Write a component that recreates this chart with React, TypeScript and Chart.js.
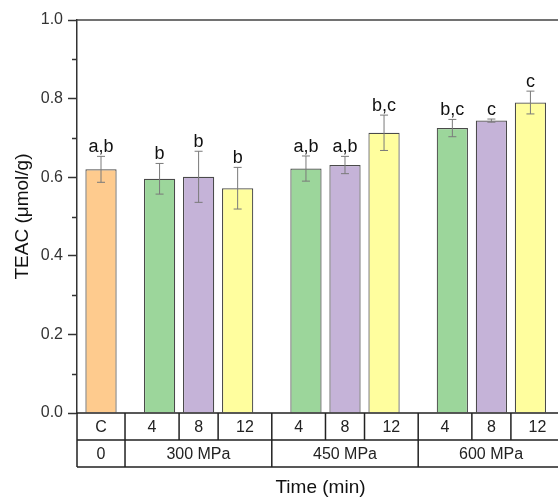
import React, { useEffect, useRef } from 'react';
import { Chart, registerables } from 'chart.js';

Chart.register(...registerables);

// ---- data ----
const pressureGroups = ['0', '300 MPa', '450 MPa', '600 MPa'];
const timeLabels = ['C', '4', '8', '12', '4', '8', '12', '4', '8', '12'];
const groupIndex = [0, 1, 1, 1, 2, 2, 2, 3, 3, 3];
const teacValues = [0.620, 0.596, 0.601, 0.572, 0.622, 0.631, 0.713, 0.725, 0.744, 0.790];
const teacErrors = [0.033, 0.039, 0.065, 0.053, 0.032, 0.022, 0.045, 0.022, 0.004, 0.029];
const significance = ['a,b', 'b', 'b', 'b', 'a,b', 'a,b', 'b,c', 'b,c', 'c', 'c'];
const yMajorTicks = [0, 0.2, 0.4, 0.6, 0.8, 1.0];
const yMinorTicks = [0.1, 0.3, 0.5, 0.7, 0.9];

// ---- styles ----
const FILL: Record<string, string> = {
  C: '#FECB8E',
  '4': '#9CD69B',
  '8': '#C5B3D8',
  '12': '#FFFE9E',
};
const FONT = '"Liberation Sans", Arial, sans-serif';
const CONTROL_GAP = 0.5;
const GROUP_GAP = 0.75;

function barPositions(): number[] {
  const pos: number[] = [];
  let x = 0;
  for (let i = 0; i < timeLabels.length; i++) {
    if (i > 0) {
      x += 1;
      if (groupIndex[i] !== groupIndex[i - 1]) {
        x += groupIndex[i - 1] === 0 ? CONTROL_GAP : GROUP_GAP;
      }
    }
    pos.push(x);
  }
  return pos;
}

const positions = barPositions();
const X_MIN = -0.615;
const X_MAX = positions[positions.length - 1] + 0.86;

const overlayPlugin = {
  id: 'overlay',
  afterDatasetsDraw(chart: any) {
    const { ctx, chartArea, scales } = chart;
    const xs = scales.x;
    const ys = scales.y;
    const L = chartArea.left;
    const R = chartArea.right;
    const T = chartArea.top;
    const B = chartArea.bottom;
    ctx.save();

    // error bars
    ctx.strokeStyle = '#7a7a7a';
    ctx.lineWidth = 1;
    positions.forEach((p, i) => {
      const px = xs.getPixelForValue(p);
      const yHi = ys.getPixelForValue(teacValues[i] + teacErrors[i]);
      const yLo = ys.getPixelForValue(teacValues[i] - teacErrors[i]);
      ctx.beginPath();
      ctx.moveTo(px, yHi);
      ctx.lineTo(px, yLo);
      ctx.moveTo(px - 4, yHi);
      ctx.lineTo(px + 4, yHi);
      ctx.moveTo(px - 4, yLo);
      ctx.lineTo(px + 4, yLo);
      ctx.stroke();
    });

    // significance letters
    ctx.fillStyle = '#111';
    ctx.font = `18px ${FONT}`;
    ctx.textAlign = 'center';
    ctx.textBaseline = 'alphabetic';
    positions.forEach((p, i) => {
      const px = xs.getPixelForValue(p);
      const yHi = ys.getPixelForValue(teacValues[i] + teacErrors[i]);
      ctx.fillText(significance[i], px, yHi - 4);
    });

    // minor ticks
    ctx.strokeStyle = '#333';
    ctx.lineWidth = 1.5;
    yMinorTicks.forEach((v) => {
      const py = Math.round(ys.getPixelForValue(v)) + 0.5;
      ctx.beginPath();
      ctx.moveTo(L - 5, py);
      ctx.lineTo(L, py);
      ctx.stroke();
    });

    // frame top / right
    ctx.strokeStyle = '#444';
    ctx.lineWidth = 1.5;
    ctx.beginPath();
    ctx.moveTo(L, T);
    ctx.lineTo(R, T);
    ctx.lineTo(R, B);
    ctx.stroke();

    // table
    const rowH = 27;
    const r1 = B + rowH;
    const r2 = B + 2 * rowH;
    ctx.strokeStyle = '#222';
    ctx.lineWidth = 1.5;
    ctx.beginPath();
    ctx.moveTo(L, B);
    ctx.lineTo(R, B);
    ctx.moveTo(L, r1);
    ctx.lineTo(R, r1);
    ctx.moveTo(L, r2);
    ctx.lineTo(R, r2);
    ctx.moveTo(L, B);
    ctx.lineTo(L, r2);
    ctx.moveTo(R, B);
    ctx.lineTo(R, r2);
    ctx.stroke();

    // cell boundaries
    const bounds: number[] = [];
    for (let i = 0; i < positions.length - 1; i++) {
      bounds.push(i === 0 ? -X_MIN + positions[0] : (positions[i] + positions[i + 1]) / 2);
    }
    const cellLeft = (i: number) => (i === 0 ? X_MIN : bounds[i - 1]);
    const cellRight = (i: number) => (i === positions.length - 1 ? X_MAX : bounds[i]);

    ctx.beginPath();
    bounds.forEach((b, i) => {
      const bx = xs.getPixelForValue(b);
      const groupBreak = groupIndex[i] !== groupIndex[i + 1];
      ctx.moveTo(bx, B);
      ctx.lineTo(bx, groupBreak ? r2 : r1);
    });
    ctx.stroke();

    ctx.fillStyle = '#222';
    ctx.font = `16px ${FONT}`;
    ctx.textAlign = 'center';
    ctx.textBaseline = 'middle';
    timeLabels.forEach((t, i) => {
      const cx = (xs.getPixelForValue(cellLeft(i)) + xs.getPixelForValue(cellRight(i))) / 2;
      ctx.fillText(t, cx, B + rowH / 2 + 1);
    });
    pressureGroups.forEach((g, gi) => {
      const idx = groupIndex.map((v, i) => (v === gi ? i : -1)).filter((i) => i >= 0);
      const x0 = xs.getPixelForValue(cellLeft(idx[0]));
      const x1 = xs.getPixelForValue(cellRight(idx[idx.length - 1]));
      ctx.fillText(g, (x0 + x1) / 2, r1 + rowH / 2 + 1);
    });

    // axis titles
    ctx.fillStyle = '#111';
    ctx.font = `19px ${FONT}`;
    ctx.textAlign = 'center';
    ctx.textBaseline = 'alphabetic';
    ctx.fillText('Time (min)', (L + R) / 2, 493);

    ctx.save();
    ctx.translate(22.7, (T + B) / 2);
    ctx.rotate(-Math.PI / 2);
    ctx.textBaseline = 'middle';
    ctx.fillText('TEAC (μmol/g)', 0, 0);
    ctx.restore();

    ctx.restore();
  },
};

export default function App() {
  const canvasRef = useRef<HTMLCanvasElement | null>(null);

  useEffect(() => {
    const canvas = canvasRef.current;
    if (!canvas) return;
    const chart = new Chart(canvas, {
      type: 'bar',
      data: {
        datasets: [
          {
            data: positions.map((x, i) => ({ x, y: teacValues[i] })) as any,
            backgroundColor: timeLabels.map((t) => FILL[t]),
            borderColor: '#4a4a4a',
            borderWidth: 1.2,
            barPercentage: 0.8,
            categoryPercentage: 1,
          },
        ],
      },
      options: {
        responsive: false,
        animation: false,
        devicePixelRatio: 1,
        layout: { padding: { left: 0, top: 20, right: 6, bottom: 84 } },
        plugins: {
          legend: { display: false },
          tooltip: { enabled: false },
        },
        scales: {
          x: {
            type: 'linear',
            min: X_MIN,
            max: X_MAX,
            display: false,
            offset: false,
          },
          y: {
            min: 0,
            max: 1,
            afterBuildTicks: (s: any) => {
              s.ticks = yMajorTicks.map((v) => ({ value: v }));
            },
            afterFit: (s: any) => {
              s.width = 77;
            },
            ticks: {
              callback: (v: any) => Number(v).toFixed(1),
              font: { family: FONT, size: 16 },
              color: '#333',
              padding: 5,
            },
            grid: {
              drawOnChartArea: false,
              drawTicks: true,
              tickLength: 9,
              tickColor: '#333',
              tickWidth: 1.5,
            },
            border: { display: true, color: '#333', width: 1.5 },
          },
        },
      },
      plugins: [overlayPlugin],
    });
    return () => chart.destroy();
  }, []);

  return (
    <div
      style={{
        position: 'absolute',
        left: 0,
        top: 0,
        width: 558,
        height: 497,
        overflow: 'hidden',
        background: '#fff',
      }}
    >
      <canvas ref={canvasRef} width={570} height={497} style={{ display: 'block' }} />
    </div>
  );
}
